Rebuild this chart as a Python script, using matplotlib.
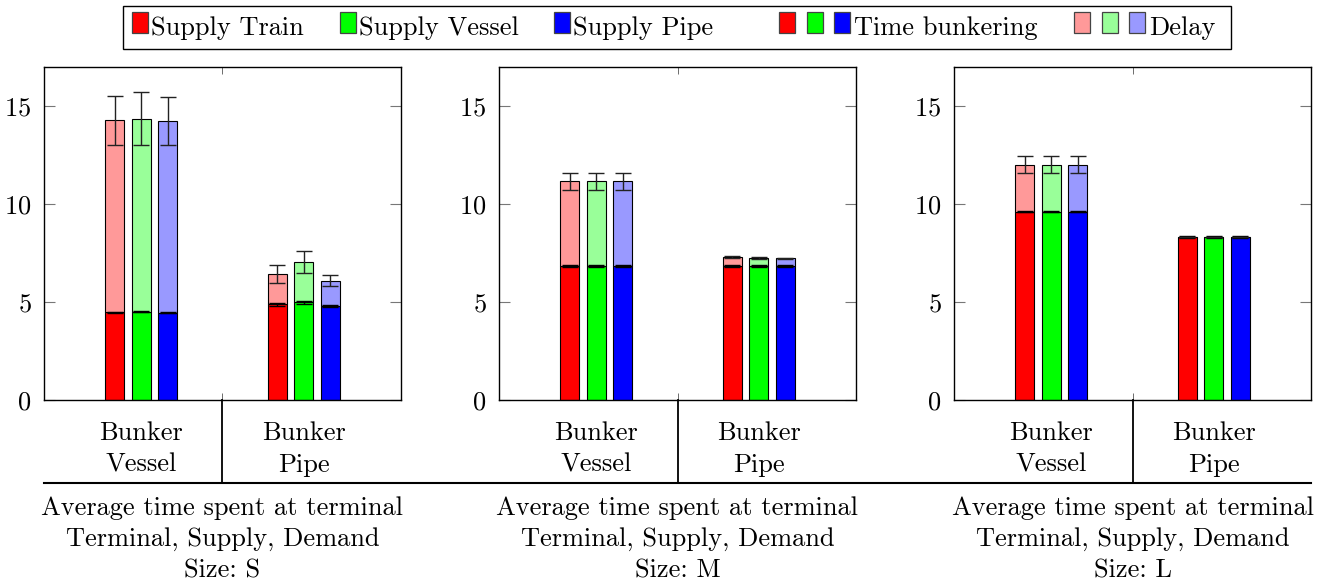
import matplotlib
matplotlib.use('Agg')
import matplotlib.pyplot as plt
from matplotlib.patches import Rectangle
from matplotlib.lines import Line2D
import numpy as np

plt.rcParams['font.family'] = ['cmr10', 'DejaVu Serif']
plt.rcParams['axes.formatter.use_mathtext'] = True
plt.rcParams['mathtext.fontset'] = 'cm'

## categories (bunker type) and supply modes
categories = ['Bunker\nVessel', 'Bunker\nPipe']
supplies = ['Supply Train', 'Supply Vessel', 'Supply Pipe']
sizes = ['S', 'M', 'L']

## time bunkering, rows = supply mode, cols = category
bunkering_S = [[4.47, 4.88], [4.50, 4.98], [4.46, 4.80]]
bunkering_M = [[6.85, 6.85], [6.85, 6.85], [6.85, 6.85]]
bunkering_L = [[9.61, 8.32], [9.61, 8.32], [9.61, 8.32]]
bunkering_err_S = [[0.03, 0.09], [0.03, 0.07], [0.03, 0.04]]
bunkering_err_M = [[0.04, 0.04], [0.04, 0.04], [0.04, 0.04]]
bunkering_err_L = [[0.03, 0.04], [0.03, 0.04], [0.03, 0.04]]

## delay on top of bunkering
delay_S = [[9.80, 1.53], [9.87, 2.06], [9.77, 1.29]]
delay_M = [[4.31, 0.43], [4.31, 0.40], [4.31, 0.38]]
delay_L = [[2.41, 0.0], [2.41, 0.0], [2.41, 0.0]]
delay_err_S = [[1.26, 0.46], [1.33, 0.56], [1.23, 0.27]]
delay_err_M = [[0.43, 0.05], [0.43, 0.03], [0.43, 0.03]]
delay_err_L = [[0.42, 0.0], [0.42, 0.0], [0.42, 0.0]]

bunkering = [bunkering_S, bunkering_M, bunkering_L]
bunkering_err = [bunkering_err_S, bunkering_err_M, bunkering_err_L]
delay = [delay_S, delay_M, delay_L]
delay_err = [delay_err_S, delay_err_M, delay_err_L]

colors = ['#ff0000', '#00ff00', '#0000ff']
colors_light = ['#ff9999', '#99ff99', '#9999ff']

W, H = 1330, 583
fig = plt.figure(figsize=(W / 100, H / 100), dpi=100)

fs = 19
ind = np.arange(len(categories))
width = 0.117
offset = 0.163
ax_left = [44, 499, 954]

for k in range(3):
    ax = fig.add_axes([ax_left[k] / W, 1 - 400 / H, 357 / W, 333 / H])
    for i in range(3):
        x = ind + (i - 1) * offset
        b = np.array(bunkering[k][i])
        d = np.array(delay[k][i])
        ax.bar(x, b, width, color=colors[i], edgecolor='black', linewidth=0.8, zorder=2)
        ax.errorbar(x, b, yerr=bunkering_err[k][i], fmt='none', ecolor='black',
                    elinewidth=1.0, capsize=5.5, capthick=1.0, zorder=3)
        ax.bar(x, d, width, bottom=b, color=colors_light[i], edgecolor='black',
               linewidth=0.8, zorder=2)
        ax.errorbar(x, b + d, yerr=delay_err[k][i], fmt='none', ecolor='#222222',
                    elinewidth=1.0, capsize=5.5, capthick=1.0, zorder=3)

    ax.set_xlim(-0.6, 1.6)
    ax.set_ylim(0, 17)
    ax.set_yticks([0, 5, 10, 15])
    ax.set_xticks(ind)
    ax.set_xticklabels(categories, linespacing=1.45)
    ax.set_xticks([0.5], minor=True)
    ax.tick_params(axis='x', which='major', length=0, pad=15, labelsize=fs)
    ax.tick_params(axis='x', which='minor', direction='in', length=5, top=True,
                   color='#555555')
    ax.tick_params(axis='y', direction='in', length=8, right=True, color='#777777',
                   labelsize=fs, pad=9)
    for s in ax.spines.values():
        s.set_linewidth(1.0)

    ## separator between the two categories
    ax.add_line(Line2D([0.5, 0.5], [0, -83 / 333], transform=ax.transAxes,
                       color='black', linewidth=1.3, clip_on=False))

    ax.text(0.5, -96 / 333,
            'Average time spent at terminal\nTerminal, Supply, Demand\nSize: ' + sizes[k],
            transform=ax.transAxes, ha='center', va='top', fontsize=fs,
            linespacing=1.39)

## long rule under the category labels
fig.add_artist(Line2D([44 / W, 1311 / W], [1 - 483 / H, 1 - 483 / H],
                      transform=fig.transFigure, color='black', linewidth=1.5))


## legend drawn in pixel units across the top
def px_rect(x, y, w, h, **kw):
    fig.add_artist(Rectangle((x / W, 1 - (y + h) / H), w / W, h / H,
                             transform=fig.transFigure, **kw))


px_rect(123, 6, 1108, 43, facecolor='white', edgecolor='black', linewidth=1.0)
legend_y = 28.5
single = [(132, colors[0], supplies[0]), (340, colors[1], supplies[1]),
          (554, colors[2], supplies[2])]
for x, c, label in single:
    px_rect(x, 12, 16, 21, facecolor=c, edgecolor='#444444', linewidth=0.9)
    fig.text((x + 19) / W, 1 - legend_y / H, label, fontsize=fs, va='center')
for x0, cols, label in [(779, colors, 'Time bunkering'), (1074, colors_light, 'Delay')]:
    for j, c in enumerate(cols):
        px_rect(x0 + j * 27.5, 12, 16, 21, facecolor=c, edgecolor='#444444', linewidth=0.9)
    fig.text((x0 + 2 * 27.5 + 20) / W, 1 - legend_y / H, label, fontsize=fs, va='center')

plt.savefig('out.png', dpi=100)
